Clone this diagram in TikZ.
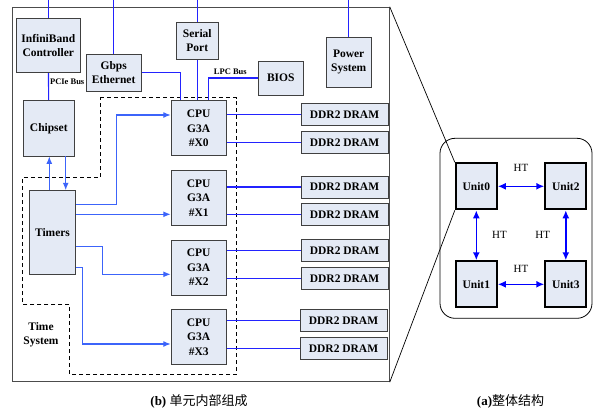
\documentclass[tikz,border=0pt]{standalone}
\usepackage{fontspec}
\setmainfont{Liberation Serif}
\newfontfamily\cjk{Noto Sans CJK SC}
\usetikzlibrary{positioning,arrows.meta}
\definecolor{boxfill}{RGB}{228,234,245}
\definecolor{busblue}{RGB}{35,35,255}
\definecolor{tmblue}{RGB}{60,100,250}

\begin{document}
\begin{tikzpicture}[x=1pt, y=-1pt, >={Latex[length=7.5pt,width=6pt]},
  box/.style={draw=black!75, fill=boxfill, line width=0.9pt, align=center, inner sep=0pt,
              font=\fontsize{11.5}{14.5}\selectfont\bfseries},
  cpu/.style={box, minimum width=55pt, minimum height=55pt},
  dram/.style={box, minimum width=87pt, minimum height=22pt},
  unit/.style={box, draw=black, line width=2pt, minimum width=41pt, minimum height=46pt},
  lbl/.style={font=\fontsize{8.5}{10}\selectfont\bfseries, inner sep=0pt},
  ht/.style={font=\fontsize{11}{13}\selectfont, inner sep=0pt},
  bus/.style={draw=busblue, line width=1.1pt},
  tline/.style={draw=tmblue, line width=1.2pt, ->},
  htarr/.style={draw=blue, line width=1.6pt, <->, >={Latex[length=8pt,width=7pt]}}]
  \useasboundingbox (0,0) rectangle (593,412);

  % (b) inside one unit
  \node[draw=black!70, line width=0.9pt, inner sep=0pt, minimum width=377pt,
        minimum height=374.4pt] (frameb) at (200.8,194.5) {};
  \draw[dashed, dash pattern=on 4pt off 3pt, line width=0.8pt]
    (100,97.7) -- (236.7,97.7) -- (236.7,374.3) -- (69.7,374.3) -- (69.7,304)
    -- (22.3,304) -- (22.3,177.7) -- (100,177.7) -- cycle;
  \node[font=\fontsize{11.5}{14.5}\selectfont\bfseries, align=center] (tslbl) at (41,334.7) {Time\\System};

  \node[box, minimum width=63.3pt, minimum height=54.4pt] (ib) at (48.3,45.5) {InfiniBand\\Controller};
  \node[box, minimum width=50.3pt, minimum height=55.3pt] (chip) at (48.8,128.3) {Chipset};
  \draw[bus] (ib) -- node[lbl, right=1pt, pos=0.3]{PCIe Bus} (chip);
  \node[box, minimum width=55.3pt, minimum height=37pt] (gbe) at (113.7,72.5) {Gbps\\Ethernet};
  \node[box, minimum width=42pt, minimum height=37pt] (serial) at (197.3,40.8) {Serial\\Port};
  \node[box, minimum width=45pt, minimum height=34pt] (bios) at (280.8,78) {BIOS};
  \node[box, minimum width=45.3pt, minimum height=50.3pt] (power) at (348.7,62.2) {Power\\System};
  \node[box, minimum width=46.4pt, minimum height=83.6pt] (timers) at (52.5,232.5) {Timers};

  \node[cpu] (x0) at (198.7,128.3) {CPU\\G3A\\\#X0};
  \node[cpu] (x1) at (198.7,198) {CPU\\G3A\\\#X1};
  \node[cpu] (x2) at (198.7,267.5) {CPU\\G3A\\\#X2};
  \node[cpu] (x3) at (198.7,336.8) {CPU\\G3A\\\#X3};

  \node[dram] (d0a) at (344.5,114.8) {DDR2 DRAM};
  \node[dram] (d0b) at (344.5,142.5) {DDR2 DRAM};
  \node[dram] (d1a) at (344.5,187) {DDR2 DRAM};
  \node[dram] (d1b) at (344.5,214.7) {DDR2 DRAM};
  \node[dram] (d2a) at (344.5,250.8) {DDR2 DRAM};
  \node[dram] (d2b) at (344.5,278.8) {DDR2 DRAM};
  \node[dram] (d3a) at (343.5,320.3) {DDR2 DRAM};
  \node[dram] (d3b) at (343.5,348.2) {DDR2 DRAM};

  % external links
  \draw[bus] (ib.north) -- (ib.north |- 0,0);
  \draw[bus] (gbe.north) -- (gbe.north |- 0,0);
  \draw[bus] (serial.north) -- (serial.north |- 0,0);
  \draw[bus] (power.north) -- (power.north |- 0,0);
  \draw[bus] (gbe.east) -| (x0.north -| 180.3,0);
  \draw[bus] (serial.south) -- (serial.south |- x0.north);
  \draw[bus] (bios.west) -| node[lbl, above=3pt, pos=0.28]{LPC Bus} (x0.north -| 208.7,0);

  % memory
  \draw[bus] (x0.east |- d0a) -- (d0a);
  \draw[bus] (x0.east |- d0b) -- (d0b);
  \draw[bus] (x1.east |- d1a) -- (d1a);
  \draw[bus] (x1.east |- d1b) -- (d1b);
  \draw[bus] (x2.east |- d2a) -- (d2a);
  \draw[bus] (x2.east |- d2b) -- (d2b);
  \draw[bus] (x3.east |- d3a) -- (d3a);
  \draw[bus] (x3.east |- d3b) -- (d3b);

  % time system
  \draw[tline] (timers.north -| 49.3,0) -- (chip.south -| 49.3,0);
  \draw[tline] (chip.south -| 65.7,0) -- (timers.north -| 65.7,0);
  \draw[tline] (timers.east |- 0,204.3) -| (116.3,115) -- (x0.west |- 0,115);
  \draw[tline] (timers.east |- 0,214.3) -- (x1.west |- 0,214.3);
  \draw[tline] (timers.east |- 0,246.7) -| (102.3,274.3) -- (x2.west |- 0,274.3);
  \draw[tline] (timers.east |- 0,267.3) -| (82.3,344) -- (x3.west |- 0,344);

  % (a) whole system
  \draw[line width=0.8pt, rounded corners=15pt] (440,138.3) rectangle (592,318.3);
  \node[unit] (u0) at (476.3,186.3) {Unit0};
  \node[unit] (u2) at (565.8,186.3) {Unit2};
  \node[unit] (u1) at (476.3,284.3) {Unit1};
  \node[unit] (u3) at (565.8,284.3) {Unit3};
  \draw[htarr] (u0) -- node[ht, above=14pt]{HT} (u2);
  \draw[htarr] (u1) -- node[ht, above=11pt]{HT} (u3);
  \draw[htarr] (u0) -- node[ht, right=15pt]{HT} (u1);
  \draw[htarr] (u2) -- node[ht, left=15pt]{HT} (u3);
  \draw[line width=0.7pt] (frameb.north east) -- (u0.north west);
  \draw[line width=0.7pt] (frameb.south east) -- (u0.south west);

  \node[font=\fontsize{13}{15}\selectfont] (capb) at (199,401) {\textbf{(b)} {\cjk 单元内部组成}};
  \node[font=\fontsize{13}{15}\selectfont] (capa) at (510.5,401) {\textbf{(a)}{\cjk 整体结构}};
\end{tikzpicture}
\end{document}
